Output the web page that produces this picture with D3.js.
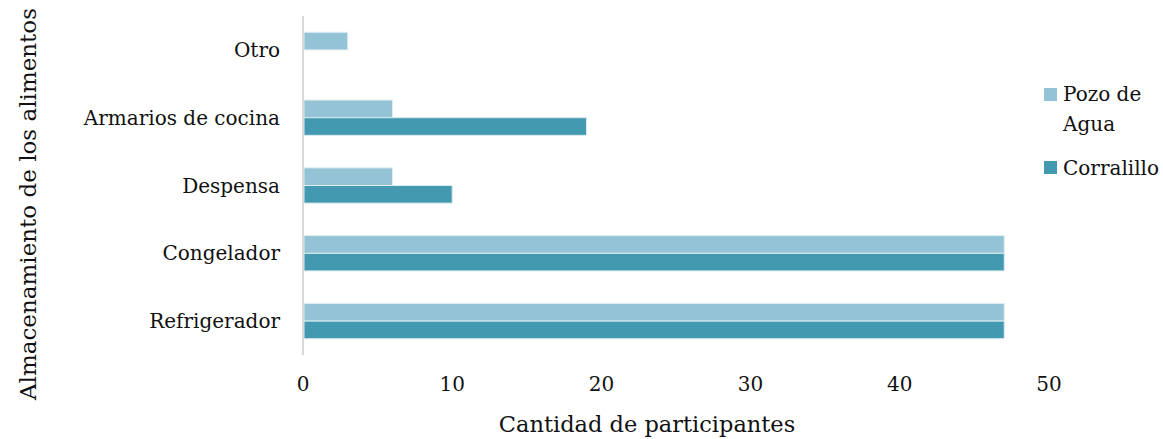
<!DOCTYPE html>
<html>
<head>
<meta charset="UTF-8">
<title></title>
<style>
  body { margin: 0; background: #fff; }
  text { font-family: 'DejaVu Serif', 'Liberation Serif', serif; fill: #111; }
</style>
</head>
<body>
<div id="container"></div>
<script src="https://d3js.org/d3.v7.min.js"></script>
<script>
  var categories = ["Otro", "Armarios de cocina", "Despensa", "Congelador", "Refrigerador"];
  var pozoDeAgua = [3, 6, 6, 47, 47];
  var corralillo = [0, 19, 10, 47, 47];
  var xTicks = [0, 10, 20, 30, 40, 50];
  var seriesNames = ["Pozo de Agua", "Corralillo"];
  var seriesColors = ["#93c3d4", "#4399b0"];

  var width = 1163, height = 439;
  var svg = d3.select("#container").append("svg")
    .attr("width", width).attr("height", height);

  // plot area
  var plotL = 303, plotR = 1049, plotT = 16, plotB = 355;

  var x = d3.scaleLinear().domain([0, 50]).range([plotL, plotR]);
  var y = d3.scaleBand().domain(categories).range([plotT, plotB]).paddingInner(0.48).paddingOuter(0.24);
  var ySub = d3.scaleBand().domain(seriesNames).range([0, y.bandwidth()]);

  var rows = categories.map(function(c, i) {
    return { cat: c, values: [pozoDeAgua[i], corralillo[i]] };
  });

  var g = svg.selectAll("g.row").data(rows).enter().append("g")
    .attr("class", "row")
    .attr("transform", function(d) { return "translate(0," + y(d.cat) + ")"; });

  g.selectAll("rect")
    .data(function(d) { return d.values.map(function(v, k) { return { v: v, k: k }; }); })
    .enter().filter(function(d) { return d.v > 0; })
    .append("rect")
      .attr("x", x(0) + 1)
      .attr("y", function(d) { return ySub(seriesNames[d.k]); })
      .attr("width", function(d) { return x(d.v) - x(0) - 1; })
      .attr("height", ySub.bandwidth())
      .attr("fill", function(d) { return seriesColors[d.k]; })
      .attr("stroke", "#dcedf2")
      .attr("stroke-width", 1);

  // vertical axis line
  svg.append("line")
    .attr("x1", x(0)).attr("x2", x(0))
    .attr("y1", plotT).attr("y2", plotB)
    .attr("stroke", "#d9d9d9").attr("stroke-width", 2);

  // category labels
  svg.selectAll("text.cat").data(categories).enter().append("text")
    .attr("class", "cat")
    .attr("x", 280)
    .attr("y", function(d) { return y(d) + y.bandwidth() / 2; })
    .attr("dy", "0.35em")
    .attr("text-anchor", "end")
    .style("font-size", "20px")
    .text(function(d) { return d; });

  // x tick labels
  svg.selectAll("text.xt").data(xTicks).enter().append("text")
    .attr("class", "xt")
    .attr("x", function(d) { return x(d); })
    .attr("y", 391)
    .attr("text-anchor", "middle")
    .style("font-size", "20px")
    .text(function(d) { return d; });

  // axis titles
  svg.append("text")
    .attr("x", 647).attr("y", 432)
    .attr("text-anchor", "middle")
    .style("font-size", "22.5px")
    .text("Cantidad de participantes");

  svg.append("text")
    .attr("transform", "translate(36,204) rotate(-90)")
    .attr("text-anchor", "middle")
    .style("font-size", "23px")
    .text("Almacenamiento de los alimentos");

  // legend
  var legend = svg.append("g");
  legend.append("rect").attr("x", 1044).attr("y", 88).attr("width", 13).attr("height", 13)
    .attr("fill", seriesColors[0]);
  legend.append("text").attr("x", 1063).attr("y", 101).style("font-size", "20px").text("Pozo de");
  legend.append("text").attr("x", 1063).attr("y", 131).style("font-size", "20px").text("Agua");
  legend.append("rect").attr("x", 1044).attr("y", 161).attr("width", 13).attr("height", 13)
    .attr("fill", seriesColors[1]);
  legend.append("text").attr("x", 1063).attr("y", 175).style("font-size", "20px").text(seriesNames[1]);
</script>
</body>
</html>
